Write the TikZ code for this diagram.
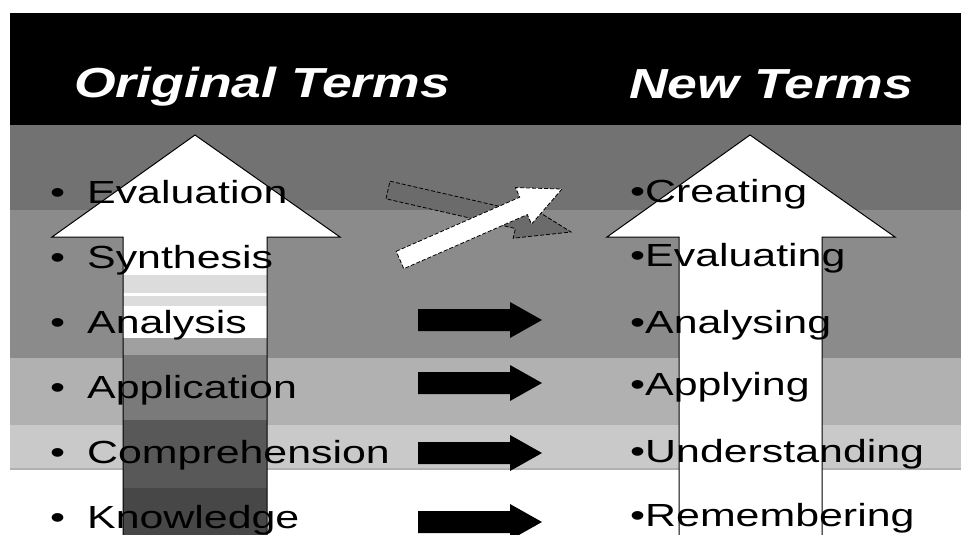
\documentclass[tikz,border=0pt]{standalone}
\usepackage{fontspec}
\newfontfamily\bodyfont[FakeStretch=1.34]{Liberation Sans}
\newfontfamily\headfont[FakeStretch=1.275]{Liberation Sans}
\definecolor{bandA}{HTML}{727272}
\definecolor{bandB}{HTML}{8B8B8B}
\definecolor{bandC}{HTML}{B1B1B1}
\definecolor{bandD}{HTML}{C9C9C9}
\definecolor{stripL}{HTML}{DCDCDC}
\definecolor{stripM}{HTML}{A0A0A0}
\definecolor{stripN}{HTML}{7A7A7A}
\definecolor{stripO}{HTML}{585858}
\definecolor{stripP}{HTML}{474747}
\definecolor{dashfill}{HTML}{6B6B6B}
\begin{document}
\begin{tikzpicture}[x=1pt,y=-1pt,
  bodytext/.style={anchor=base west, inner sep=0pt, text=black,
    font=\bodyfont\fontsize{32}{38}\selectfont},
  headtext/.style={anchor=base west, inner sep=0pt, text=white,
    font=\headfont\bfseries\itshape\fontsize{42}{50}\selectfont},
  bigoutline/.style={draw=black, line width=1pt},
  blkarrow/.style={fill=black},
  diagarrow/.style={draw=black, dashed, dash pattern=on 4pt off 2pt, line width=0.8pt}]
\useasboundingbox (0,0) rectangle (961,535);
\fill[white] (0,0) rectangle (961,535);
% header and bands
\fill[black] (10,13) rectangle (961,125);
\fill[bandA] (10,125) rectangle (961,210);
\fill[bandB] (10,210) rectangle (961,358);
\fill[bandC] (10,358) rectangle (961,425);
\fill[bandD] (10,425) rectangle (961,470);
\draw[bandC, line width=1.5pt] (10,469) -- (961,469);
% left big arrow
\fill[white] (123,545) -- (123,237) -- (52,237) -- (195,135) -- (340,237) -- (267,237) -- (267,545) -- cycle;
\fill[stripL] (123,275) rectangle (267,293);
\fill[stripL] (123,296) rectangle (267,306);
\fill[stripM] (123,338) rectangle (267,355);
\fill[stripN] (123,355) rectangle (267,420);
\fill[stripO] (123,420) rectangle (267,488);
\fill[stripP] (123,488) rectangle (267,545);
\draw[bigoutline] (123,545) -- (123,237) -- (52,237) -- (195,135) -- (340,237) -- (267,237) -- (267,545);
% right big arrow
\draw[bigoutline, fill=white] (679,545) -- (679,237) -- (607,237) -- (750,135) -- (895,237) -- (822,237) -- (822,545);
% diagonal arrows
\draw[diagarrow, fill=dashfill] (390.0,181.2) -- (519.4,210.9) -- (521.7,201.2) -- (571,232) -- (513.2,238.2) -- (515.4,228.5) -- (386.0,198.8) -- cycle;
\draw[diagarrow, fill=white] (396.2,251.3) -- (519.7,197.2) -- (515.5,187.6) -- (562,189) -- (531.5,224.2) -- (527.3,214.6) -- (403.8,268.7) -- cycle;
% black block arrows
\foreach \yc in {320,383,453,522} {
  \fill[blkarrow, shift={(0,\yc)}] (418,-11) -- (510,-11) -- (510,-18) -- (542,0) -- (510,18) -- (510,11) -- (418,11) -- cycle;
}
% header text
\node[headtext] (ot) at (74,97) {Original Terms};
\node[headtext] (nt) at (629,98) {New Terms};
% left column
\node[bodytext] (l1) at (50,203) {\makebox[37pt][l]{•}Evaluation};
\node[bodytext] (l2) at (50,268) {\makebox[37pt][l]{•}Synthesis};
\node[bodytext] (l3) at (50,333) {\makebox[37pt][l]{•}Analysis};
\node[bodytext] (l4) at (50,398) {\makebox[37pt][l]{•}Application};
\node[bodytext] (l5) at (50,463) {\makebox[37pt][l]{•}Comprehension};
\node[bodytext] (l6) at (50,528) {\makebox[37pt][l]{•}Knowledge};
% right column
\node[bodytext] (r1) at (630,202) {•Creating};
\node[bodytext] (r2) at (630,266) {•Evaluating};
\node[bodytext] (r3) at (630,333) {•Analysing};
\node[bodytext] (r4) at (630,395) {•Applying};
\node[bodytext] (r5) at (630,462) {•Understanding};
\node[bodytext] (r6) at (630,526) {•Remembering};
\end{tikzpicture}
\end{document}
